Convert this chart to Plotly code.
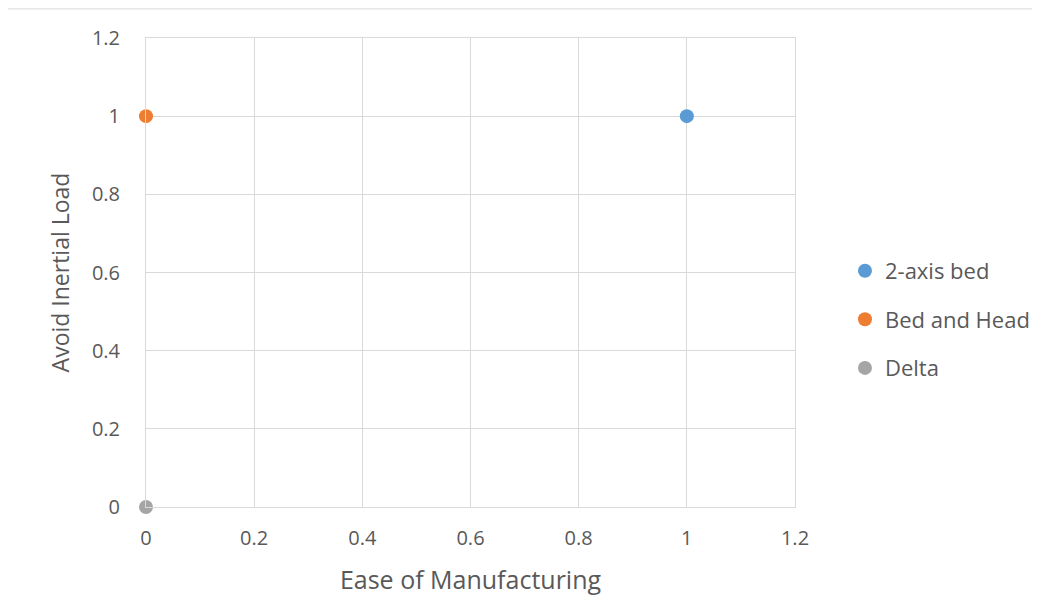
import plotly.graph_objects as go

series_names = ["2-axis bed", "Bed and Head", "Delta"]
x_values = [[1], [0], [0]]
y_values = [[1], [1], [0]]
colors = ["#5B9BD5", "#ED7D31", "#A5A5A5"]
tick_vals = [0, 0.2, 0.4, 0.6, 0.8, 1, 1.2]
tick_text = ["0", "0.2", "0.4", "0.6", "0.8", "1", "1.2"]

FONT = "Open Sans"
TXT = "#595959"
GRID = "#D9D9D9"

fig = go.Figure()
for i, name in enumerate(series_names):
    fig.add_trace(go.Scatter(
        x=x_values[i], y=y_values[i], mode="markers", name=name,
        legendgroup=name,
        marker=dict(size=14, color=colors[i], line=dict(width=0)),
        cliponaxis=False,
    ))

axis_common = dict(
    range=[0, 1.2], tickvals=tick_vals, ticktext=tick_text,
    showgrid=True, gridcolor=GRID, gridwidth=1,
    zeroline=False, showline=True, mirror=True, linecolor=GRID, linewidth=1,
    tickfont=dict(family=FONT, size=20, color=TXT),
    ticks="outside", ticklen=0,
)

fig.update_layout(
    width=1040, height=600,
    margin=dict(l=138, r=253, t=30, b=101),
    paper_bgcolor="white", plot_bgcolor="white",
    font=dict(family=FONT, color=TXT),
    xaxis=dict(**axis_common,
               title=dict(text="Ease of Manufacturing", font=dict(family=FONT, size=25, color=TXT), standoff=21),
               ticklabelstandoff=13),
    yaxis=dict(**axis_common,
               title=dict(text="Avoid Inertial Load", font=dict(family=FONT, size=23, color=TXT), standoff=15),
               ticklabelstandoff=21),
    legend=dict(x=1.077, xanchor="left", y=0.40, yanchor="middle",
                font=dict(family=FONT, size=22, color=TXT),
                tracegroupgap=17, itemwidth=30, bgcolor="rgba(0,0,0,0)"),
    showlegend=True,
)

# faint spreadsheet border line along the top
fig.add_shape(type="line", xref="paper", yref="paper",
              x0=-0.225, x1=1.378, y0=1.062, y1=1.062,
              line=dict(color=GRID, width=1))

fig.write_html("out.html")
